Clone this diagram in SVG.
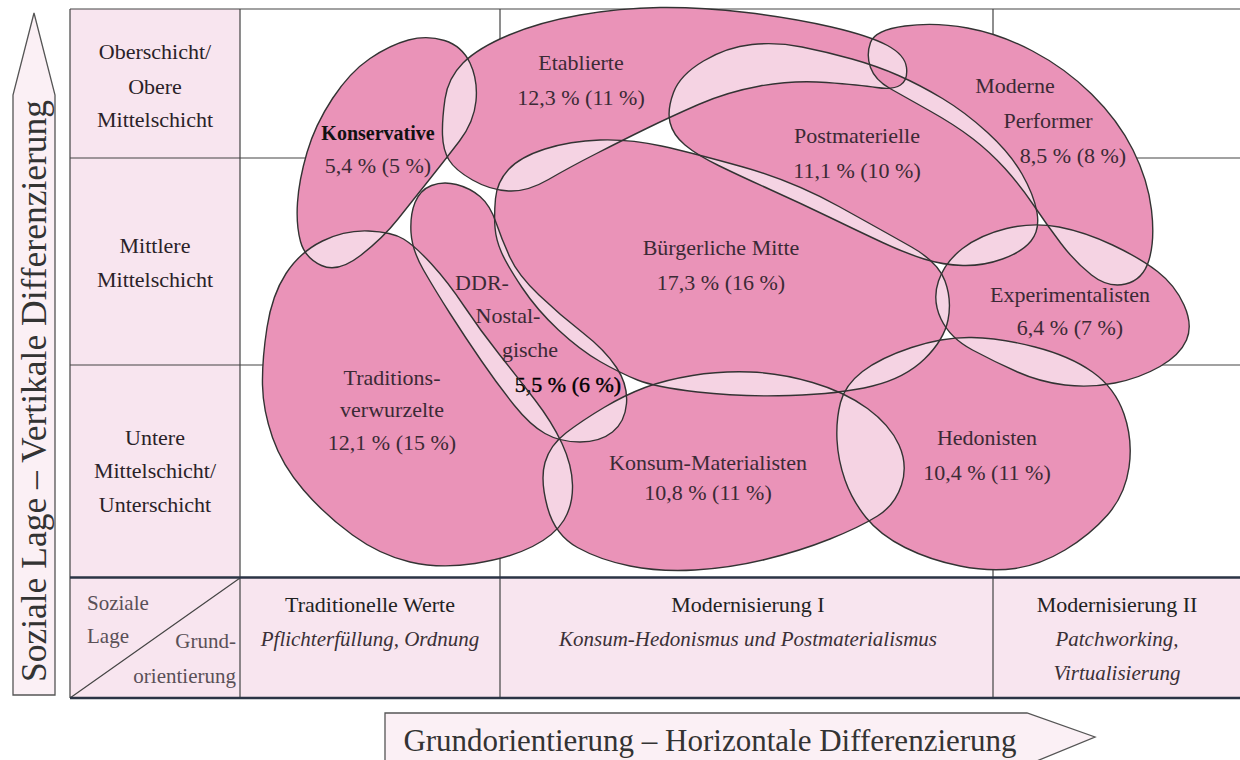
<svg xmlns="http://www.w3.org/2000/svg" width="1240" height="760" viewBox="0 0 1240 760">
<style>
.cell{fill:#f8e5ef}
.ln{stroke:#444;stroke-width:1.2;fill:none}
.thick{stroke:#2b3445;stroke-width:2.4;fill:none}
.light{fill:#f5d3e3}
.pink{fill:#ea93b8;fill-rule:evenodd}
.blob{fill:none;stroke:#333;stroke-width:1.4}
.t{font-family:"Liberation Serif","Times New Roman",serif;font-size:22px;fill:#3b2a35;text-anchor:middle}
.rowlab{font-family:"Liberation Serif","Times New Roman",serif;font-size:22px;fill:#2a2228;text-anchor:middle}
.hd{font-family:"Liberation Serif","Times New Roman",serif;font-size:22px;fill:#222;text-anchor:middle}
.it{font-family:"Liberation Serif","Times New Roman",serif;font-size:21px;font-style:italic;fill:#3a3036;text-anchor:middle}
.corner{font-family:"Liberation Serif","Times New Roman",serif;font-size:21px;fill:#5a5057}
.axis{font-family:"Liberation Serif","Times New Roman",serif;font-size:34px;fill:#333;text-anchor:middle}
.arrow{fill:#fbf0f5;stroke:#555;stroke-width:1.3}
</style>
<defs>
<path id="p-kons" d="M408.5,40 Q427,35 444.5,40.5 Q462,46 470,63 Q478,80 476,101 Q474,122 459.5,141 Q445,160 429,180 Q413,200 398,219 Q383,238 360.5,255.5 Q338,273 321.5,265.5 Q305,258 300.5,241.5 Q296,225 297.5,202.5 Q299,180 307,152.5 Q315,125 332.5,98.5 Q350,72 370,58.5 Q390,45 408.5,40 Z"/>
<path id="p-etab" d="M508.5,191 Q490,190 472.5,180 Q455,170 449,160 Q443,150 442.5,135 Q442,120 445,99 Q448,78 463,63 Q478,48 509,35 Q540,22 580,15 Q620,8 660,7.5 Q700,7 746.5,12.5 Q793,18 831.5,27 Q870,36 887.5,45.5 Q905,55 906.5,67.5 Q908,80 900.5,85 Q893,90 876.5,87.5 Q860,85 826.5,82.5 Q793,80 760,86 Q727,92 698.5,104.5 Q670,117 646.5,128.5 Q623,140 596.5,153.5 Q570,167 548.5,179.5 Q527,192 508.5,191 Z"/>
<path id="p-post" d="M670,122.5 Q667,110 673.5,92.5 Q680,75 703.5,61 Q727,47 752,44.5 Q777,42 802,47 Q827,52 852,59 Q877,66 898.5,75.5 Q920,85 942.5,98.5 Q965,112 987.5,132.5 Q1010,153 1022,174 Q1034,195 1037,212.5 Q1040,230 1031,241 Q1022,252 1002.5,259 Q983,266 963,265.5 Q943,265 924,259 Q905,253 882.5,242.5 Q860,232 830,217.5 Q800,203 770,189.5 Q740,176 718.5,165.5 Q697,155 685,145 Q673,135 670,122.5 Z"/>
<path id="p-mod" d="M870.5,67.5 Q866,55 870.5,42.5 Q875,30 905,26 Q935,22 967.5,28 Q1000,34 1032.5,51 Q1065,68 1091.5,94 Q1118,120 1133,150 Q1148,180 1151.5,210 Q1155,240 1149,260 Q1143,280 1125.5,284 Q1108,288 1091.5,275 Q1075,262 1061,243.5 Q1047,225 1033.5,205 Q1020,185 1005,168.5 Q990,152 972.5,138.5 Q955,125 930,111 Q905,97 890,88.5 Q875,80 870.5,67.5 Z"/>
<path id="p-bm" d="M495,227.5 Q494,215 495.5,198.5 Q497,182 508.5,169.5 Q520,157 545,149 Q570,141 600,140 Q630,139 661.5,146 Q693,153 743,167 Q793,181 839,206.5 Q885,232 911.5,247 Q938,262 945,281 Q952,300 948,320 Q944,340 924.5,359 Q905,378 872.5,386 Q840,394 790,395.5 Q740,397 697.5,392 Q655,387 637.5,380 Q620,373 600,361.5 Q580,350 558.5,330 Q537,310 522,287.5 Q507,265 501.5,252.5 Q496,240 495,227.5 Z"/>
<path id="p-exp" d="M941,319 Q932,300 938.5,281 Q945,262 962.5,248.5 Q980,235 1006.5,228.5 Q1033,222 1059,227 Q1085,232 1112.5,245 Q1140,258 1157.5,271.5 Q1175,285 1184,305 Q1193,325 1186.5,340 Q1180,355 1160,366.5 Q1140,378 1115,383 Q1090,388 1065,385 Q1040,382 1017.5,372 Q995,362 972.5,350 Q950,338 941,319 Z"/>
<path id="p-hed" d="M837,440 Q836,420 840.5,402.5 Q845,385 862.5,371.5 Q880,358 911.5,347.5 Q943,337 971.5,337.5 Q1000,338 1035,347 Q1070,356 1092.5,372 Q1115,388 1124,414 Q1133,440 1129,467.5 Q1125,495 1107.5,515 Q1090,535 1065,550 Q1040,565 1015,568.5 Q990,572 960,566 Q930,560 905,547.5 Q880,535 866,517.5 Q852,500 845,480 Q838,460 837,440 Z"/>
<path id="p-km" d="M547.5,507.5 Q540,480 545,462.5 Q550,445 566.5,432.5 Q583,420 604,407.5 Q625,395 645,387.5 Q665,380 692.5,375.5 Q720,371 750,372 Q780,373 812.5,382.5 Q845,392 867.5,408.5 Q890,425 899,445 Q908,465 901.5,485 Q895,505 877.5,516 Q860,527 830,539 Q800,551 765,559.5 Q730,568 695,570 Q660,572 630,566 Q600,560 577.5,547.5 Q555,535 547.5,507.5 Z"/>
<path id="p-ddr" d="M411,232.5 Q410,215 415,202.5 Q420,190 431.5,185.5 Q443,181 456.5,184.5 Q470,188 480,196.5 Q490,205 496,222.5 Q502,240 510,257.5 Q518,275 539,295 Q560,315 582.5,332.5 Q605,350 616.5,367.5 Q628,385 626.5,403.5 Q625,422 612.5,432 Q600,442 580,442 Q560,442 545,433.5 Q530,425 514,405 Q498,385 481.5,361 Q465,337 450,313.5 Q435,290 423.5,270 Q412,250 411,232.5 Z"/>
<path id="p-tv" d="M262.5,385 Q262,360 267,327.5 Q272,295 286,273.5 Q300,252 322.5,241 Q345,230 368.5,231 Q392,232 403.5,239 Q415,246 431.5,264 Q448,282 464,306 Q480,330 499,354 Q518,378 535,400 Q552,422 562,443.5 Q572,465 572.5,485 Q573,505 564,520 Q555,535 532.5,546.5 Q510,558 475,563.5 Q440,569 410,562 Q380,555 352.5,535 Q325,515 303.5,490 Q282,465 272.5,437.5 Q263,410 262.5,385 Z"/>
</defs>
<rect width="1240" height="760" fill="#ffffff"/>
<g id="grid">
<rect class="cell" x="70" y="9" width="170" height="569"/>
<rect class="cell" x="70" y="578" width="1170" height="120"/>
<path class="ln" d="M70,9 H1240 M70,158 H1240 M70,365 H1240 M70,9 V698 M240,9 V698 M500,9 V698 M993,9 V698 M70,698 L240,578"/>
<path class="thick" d="M70,577.5 H1240 M70,698 H1240"/>
</g>
<g id="axis-vertical">
<polygon class="arrow" points="13,695 13,95 34,13 55,95 55,695"/>
<text class="axis" transform="translate(46,391) rotate(-90)" style="font-size:35.5px">Soziale Lage – Vertikale Differenzierung</text>
</g>
<g id="axis-horizontal">
<path class="arrow" d="M385,765 V713 H1027 L1095,737 L1027,765"/>
<text class="axis" x="710" y="751" style="font-size:31px">Grundorientierung – Horizontale Differenzierung</text>
</g>
<g id="row-labels">
<text class="rowlab" x="155" y="59">Oberschicht/</text>
<text class="rowlab" x="155" y="94">Obere</text>
<text class="rowlab" x="155" y="127">Mittelschicht</text>
<text class="rowlab" x="155" y="253">Mittlere</text>
<text class="rowlab" x="155" y="287">Mittelschicht</text>
<text class="rowlab" x="155" y="445">Untere</text>
<text class="rowlab" x="155" y="478">Mittelschicht/</text>
<text class="rowlab" x="155" y="512">Unterschicht</text>
<text class="corner" x="87" y="610">Soziale</text>
<text class="corner" x="87" y="643">Lage</text>
<text class="corner" x="236" y="648" text-anchor="end">Grund-</text>
<text class="corner" x="236" y="683" text-anchor="end">orientierung</text>
</g>
<g id="column-labels">
<text class="hd" x="370" y="612">Traditionelle Werte</text>
<text class="it" x="370" y="646">Pflichterfüllung, Ordnung</text>
<text class="hd" x="748" y="612">Modernisierung I</text>
<text class="it" x="748" y="646">Konsum-Hedonismus und Postmaterialismus</text>
<text class="hd" x="1117" y="612">Modernisierung II</text>
<text class="it" x="1117" y="646">Patchworking,</text>
<text class="it" x="1117" y="680">Virtualisierung</text>
</g>
<g id="fills">
<use href="#p-kons" class="light"/>
<use href="#p-etab" class="light"/>
<use href="#p-post" class="light"/>
<use href="#p-mod" class="light"/>
<use href="#p-bm" class="light"/>
<use href="#p-exp" class="light"/>
<use href="#p-hed" class="light"/>
<use href="#p-km" class="light"/>
<use href="#p-ddr" class="light"/>
<use href="#p-tv" class="light"/>
<path class="pink" d="M408.5,40 Q427,35 444.5,40.5 Q462,46 470,63 Q478,80 476,101 Q474,122 459.5,141 Q445,160 429,180 Q413,200 398,219 Q383,238 360.5,255.5 Q338,273 321.5,265.5 Q305,258 300.5,241.5 Q296,225 297.5,202.5 Q299,180 307,152.5 Q315,125 332.5,98.5 Q350,72 370,58.5 Q390,45 408.5,40 Z
M508.5,191 Q490,190 472.5,180 Q455,170 449,160 Q443,150 442.5,135 Q442,120 445,99 Q448,78 463,63 Q478,48 509,35 Q540,22 580,15 Q620,8 660,7.5 Q700,7 746.5,12.5 Q793,18 831.5,27 Q870,36 887.5,45.5 Q905,55 906.5,67.5 Q908,80 900.5,85 Q893,90 876.5,87.5 Q860,85 826.5,82.5 Q793,80 760,86 Q727,92 698.5,104.5 Q670,117 646.5,128.5 Q623,140 596.5,153.5 Q570,167 548.5,179.5 Q527,192 508.5,191 Z
M670,122.5 Q667,110 673.5,92.5 Q680,75 703.5,61 Q727,47 752,44.5 Q777,42 802,47 Q827,52 852,59 Q877,66 898.5,75.5 Q920,85 942.5,98.5 Q965,112 987.5,132.5 Q1010,153 1022,174 Q1034,195 1037,212.5 Q1040,230 1031,241 Q1022,252 1002.5,259 Q983,266 963,265.5 Q943,265 924,259 Q905,253 882.5,242.5 Q860,232 830,217.5 Q800,203 770,189.5 Q740,176 718.5,165.5 Q697,155 685,145 Q673,135 670,122.5 Z
M870.5,67.5 Q866,55 870.5,42.5 Q875,30 905,26 Q935,22 967.5,28 Q1000,34 1032.5,51 Q1065,68 1091.5,94 Q1118,120 1133,150 Q1148,180 1151.5,210 Q1155,240 1149,260 Q1143,280 1125.5,284 Q1108,288 1091.5,275 Q1075,262 1061,243.5 Q1047,225 1033.5,205 Q1020,185 1005,168.5 Q990,152 972.5,138.5 Q955,125 930,111 Q905,97 890,88.5 Q875,80 870.5,67.5 Z
M495,227.5 Q494,215 495.5,198.5 Q497,182 508.5,169.5 Q520,157 545,149 Q570,141 600,140 Q630,139 661.5,146 Q693,153 743,167 Q793,181 839,206.5 Q885,232 911.5,247 Q938,262 945,281 Q952,300 948,320 Q944,340 924.5,359 Q905,378 872.5,386 Q840,394 790,395.5 Q740,397 697.5,392 Q655,387 637.5,380 Q620,373 600,361.5 Q580,350 558.5,330 Q537,310 522,287.5 Q507,265 501.5,252.5 Q496,240 495,227.5 Z
M941,319 Q932,300 938.5,281 Q945,262 962.5,248.5 Q980,235 1006.5,228.5 Q1033,222 1059,227 Q1085,232 1112.5,245 Q1140,258 1157.5,271.5 Q1175,285 1184,305 Q1193,325 1186.5,340 Q1180,355 1160,366.5 Q1140,378 1115,383 Q1090,388 1065,385 Q1040,382 1017.5,372 Q995,362 972.5,350 Q950,338 941,319 Z
M837,440 Q836,420 840.5,402.5 Q845,385 862.5,371.5 Q880,358 911.5,347.5 Q943,337 971.5,337.5 Q1000,338 1035,347 Q1070,356 1092.5,372 Q1115,388 1124,414 Q1133,440 1129,467.5 Q1125,495 1107.5,515 Q1090,535 1065,550 Q1040,565 1015,568.5 Q990,572 960,566 Q930,560 905,547.5 Q880,535 866,517.5 Q852,500 845,480 Q838,460 837,440 Z
M547.5,507.5 Q540,480 545,462.5 Q550,445 566.5,432.5 Q583,420 604,407.5 Q625,395 645,387.5 Q665,380 692.5,375.5 Q720,371 750,372 Q780,373 812.5,382.5 Q845,392 867.5,408.5 Q890,425 899,445 Q908,465 901.5,485 Q895,505 877.5,516 Q860,527 830,539 Q800,551 765,559.5 Q730,568 695,570 Q660,572 630,566 Q600,560 577.5,547.5 Q555,535 547.5,507.5 Z
M411,232.5 Q410,215 415,202.5 Q420,190 431.5,185.5 Q443,181 456.5,184.5 Q470,188 480,196.5 Q490,205 496,222.5 Q502,240 510,257.5 Q518,275 539,295 Q560,315 582.5,332.5 Q605,350 616.5,367.5 Q628,385 626.5,403.5 Q625,422 612.5,432 Q600,442 580,442 Q560,442 545,433.5 Q530,425 514,405 Q498,385 481.5,361 Q465,337 450,313.5 Q435,290 423.5,270 Q412,250 411,232.5 Z
M262.5,385 Q262,360 267,327.5 Q272,295 286,273.5 Q300,252 322.5,241 Q345,230 368.5,231 Q392,232 403.5,239 Q415,246 431.5,264 Q448,282 464,306 Q480,330 499,354 Q518,378 535,400 Q552,422 562,443.5 Q572,465 572.5,485 Q573,505 564,520 Q555,535 532.5,546.5 Q510,558 475,563.5 Q440,569 410,562 Q380,555 352.5,535 Q325,515 303.5,490 Q282,465 272.5,437.5 Q263,410 262.5,385 Z"/>
</g>
<g id="node-konservative">
<use href="#p-kons" class="blob"/>
<text class="t" x="378" y="140" style="font-weight:bold;font-size:20px;fill:#111">Konservative</text>
<text class="t" x="378" y="173">5,4 % (5 %)</text>
</g>
<g id="node-etablierte">
<use href="#p-etab" class="blob"/>
<text class="t" x="581" y="70">Etablierte</text>
<text class="t" x="581" y="105">12,3 % (11 %)</text>
</g>
<g id="node-postmaterielle">
<use href="#p-post" class="blob"/>
<text class="t" x="857" y="143">Postmaterielle</text>
<text class="t" x="857" y="178">11,1 % (10 %)</text>
</g>
<g id="node-moderne-performer">
<use href="#p-mod" class="blob"/>
<text class="t" x="1015" y="93">Moderne</text>
<text class="t" x="1048" y="128">Performer</text>
<text class="t" x="1073" y="163">8,5 % (8 %)</text>
</g>
<g id="node-buergerliche-mitte">
<use href="#p-bm" class="blob"/>
<text class="t" x="721" y="255">Bürgerliche Mitte</text>
<text class="t" x="721" y="290">17,3 % (16 %)</text>
</g>
<g id="node-experimentalisten">
<use href="#p-exp" class="blob"/>
<text class="t" x="1070" y="302">Experimentalisten</text>
<text class="t" x="1070" y="335">6,4 % (7 %)</text>
</g>
<g id="node-hedonisten">
<use href="#p-hed" class="blob"/>
<text class="t" x="987" y="445">Hedonisten</text>
<text class="t" x="987" y="480">10,4 % (11 %)</text>
</g>
<g id="node-konsum-materialisten">
<use href="#p-km" class="blob"/>
<text class="t" x="708" y="470">Konsum-Materialisten</text>
<text class="t" x="708" y="500">10,8 % (11 %)</text>
</g>
<g id="node-ddr-nostalgische">
<use href="#p-ddr" class="blob"/>
<text class="t" x="482" y="290">DDR-</text>
<text class="t" x="508" y="323">Nostal-</text>
<text class="t" x="530" y="357">gische</text>
<text class="t" x="568" y="392" style="fill:#000;stroke:#000;stroke-width:0.4">5,5 % (6 %)</text>
</g>
<g id="node-traditionsverwurzelte">
<use href="#p-tv" class="blob"/>
<text class="t" x="392" y="385">Traditions-</text>
<text class="t" x="392" y="417">verwurzelte</text>
<text class="t" x="392" y="450">12,1 % (15 %)</text>
</g>
</svg>
